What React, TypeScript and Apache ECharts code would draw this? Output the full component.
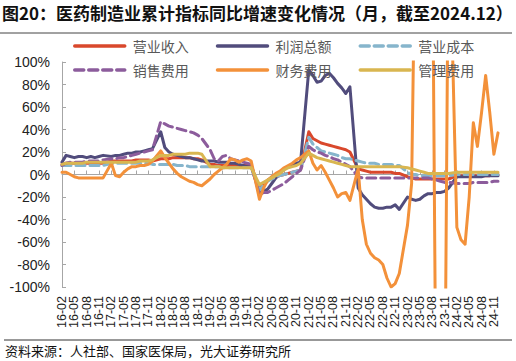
import React, { useEffect, useRef } from "react";
import * as echarts from "echarts";

// Categories: monthly 16-02 ... 24-12 (January has no cumulative value)
const categories: string[] = [];
for (let y = 16; y <= 24; y++) {
  for (let m = 1; m <= 12; m++) {
    if (y === 16 && m === 1) continue;
    categories.push(`${y}-${String(m).padStart(2, "0")}`);
  }
}

const yTicks = [-100, -80, -60, -40, -20, 0, 20, 40, 60, 80, 100];

// 营业收入
const revenue: (number | null)[] = [
  9, 10, 10, 10, 10, 10, 10, 10, 10, 10, 10,
  null, 12, 12, 12, 12, 12, 12, 13, 13, 13, 13, 12,
  null, 14, 14, 14, 15, 15, 15, 15, 15, 14, 14, 13,
  null, 9, 9, 8, 8, 8, 8, 8, 8, 8, 8, 8,
  null, -13, -8, -5, -3, -2, -1, 0, 1, 2, 3, 4,
  null, 38, 32, 30, 28, 27, 26, 25, 24, 23, 22, 20,
  null, 5, 4, 3, 2, 2, 2, 2, 2, 2, 1, 1,
  null, -2, -3, -4, -4, -4, -4, -4, -4, -4, -4, -4,
  null, -1, -1, -1, -1, -1, -1, -1, -1, -1, 0, 0,
];

// 利润总额
const profit: (number | null)[] = [
  11, 17, 16, 15, 16, 16, 15, 16, 15, 16, 17,
  null, 16, 17, 17, 18, 19, 19, 20, 20, 21, 22, 23,
  null, 38, 24, 20, 18, 17, 16, 15, 15, 14, 13, 12,
  null, 12, 12, 11, 11, 11, 10, 10, 9, 8, 7, 7,
  null, -16, -15, -13, -8, -3, 1, 5, 7, 9, 10, 11,
  null, 93, 88, 82, 83, 88, 90, 86, 81, 77, 72, 78,
  null, -12, -18, -22, -26, -29, -30, -30, -29, -29, -27, -31,
  null, -20, -22, -23, -22, -19, -17, -17, -16, -16, -15, -12,
  null, -2, -2, -2, -2, -2, -2, -2, -1, -1, -1, -1,
];

// 营业成本
const cost: (number | null)[] = [
  8, 8, 8, 8, 8, 8, 8, 8, 8, 8, 8,
  null, 10, 10, 10, 10, 10, 10, 10, 10, 10, 10, 9,
  null, 9, 9, 9, 9, 8, 8, 8, 7, 7, 7, 7,
  null, 7, 7, 7, 6, 6, 6, 6, 6, 6, 6, 6,
  null, -14, -9, -6, -4, -2, -1, 0, 1, 2, 3, 4,
  null, 33, 27, 24, 21, 20, 19, 18, 17, 15, 14, 14,
  null, 12, 11, 10, 10, 10, 9, 9, 9, 9, 8, 8,
  null, 2, 0, 0, -1, -1, -1, -1, -1, -1, -1, -1,
  null, 0, 0, 0, 0, 0, 0, 0, 0, 0, 0, 0,
];

// 销售费用
const sales: (number | null)[] = [
  8, 10, 11, 11, 11, 11, 12, 12, 12, 12, 13,
  null, 14, 14, 15, 15, 16, 17, 18, 19, 20, 21, 22,
  null, 47, 45, 43, 42, 41, 40, 39, 38, 37, 35, 32,
  null, 22, 14, 12, 16, 17, 14, 13, 12, 11, 10, 9,
  null, -18, -16, -16, -14, -12, -10, -8, -5, -2, 1, 4,
  null, 25, 22, 20, 19, 17, 16, 14, 13, 11, 9, 7,
  null, -2, -3, -3, -3, -3, -3, -3, -3, -3, -3, -3,
  null, -3, -3, -3, -3, -3, -3, -4, -5, -6, -7, -7,
  null, -8, -8, -8, -8, -7, -7, -7, -7, -7, -6, -6,
];

// 财务费用
const finance: (number | null)[] = [
  2, 2, 0, -2, -3, -3, -3, -3, -3, -3, -3,
  null, 10, -1, -2, 2, 5, 7, 7, 8, 8, 9, 12,
  null, 21, 15, 10, 5, 1, -2, -4, -6, -7, -9, -10,
  null, -4, 0, 3, 6, 9, 14, 13, 11, 13, 14, 12,
  null, -22, -12, -5, -2, 1, 3, 6, 8, 10, 13, 15,
  null, 21, 10, 4, 8, 2, -5, -12, -20, -17, -16, -23,
  null, 5, -40, -62, -70, -74, -76, -80, -92, -100, -97, -88,
  null, -45, -8, 250, 250, 250, 250, 250, -250, -250, -250, 250,
  null, -47, -58, -62, -20, 46, 25, 55, 88, 55, 18, 37,
];

// 管理费用
const admin: (number | null)[] = [
  9, 10, 10, 10, 10, 10, 11, 11, 11, 11, 11,
  null, 11, 11, 11, 11, 11, 11, 11, 12, 12, 12, 13,
  null, 17, 17, 17, 18, 18, 18, 18, 19, 19, 19, 18,
  null, 7, 7, 7, 6, 6, 6, 6, 6, 6, 6, 6,
  null, -9, -7, -5, -3, -1, 1, 4, 6, 7, 8, 10,
  null, 19, 17, 15, 14, 13, 12, 11, 10, 9, 8, 7,
  null, 7, 7, 7, 7, 7, 7, 7, 7, 7, 7, 7,
  null, 6, 5, 4, 3, 2, 1, 1, 1, 1, 1, 1,
  null, 2, 2, 2, 2, 2, 2, 2, 2, 2, 2, 2,
];

const seriesDefs = [
  { name: "营业收入", data: revenue, color: "#D9482C", dashed: false },
  { name: "利润总额", data: profit, color: "#514C7C", dashed: false },
  { name: "营业成本", data: cost, color: "#86B5CC", dashed: true },
  { name: "销售费用", data: sales, color: "#8C5C9C", dashed: true },
  { name: "财务费用", data: finance, color: "#F3913A", dashed: false },
  { name: "管理费用", data: admin, color: "#D9B650", dashed: false },
];

const CJK = '"Noto Sans CJK SC", "Noto Sans", sans-serif';
const LAT = '"Liberation Sans", Arial, sans-serif';

export default function App() {
  const ref = useRef<HTMLDivElement>(null);
  useEffect(() => {
    if (!ref.current) return;
    const chart = echarts.init(ref.current, null, { renderer: "svg" });
    const legendCommon = {
      left: 68,
      itemWidth: 50,
      itemHeight: 14,
      itemGap: 27,
      itemStyle: { opacity: 0 },
      lineStyle: { width: 3.5 },
      textStyle: { fontFamily: CJK, fontSize: 14, color: "#595959", padding: [0, 0, 0, 3] },
      selectedMode: false,
    };
    chart.setOption({
      animation: false,
      backgroundColor: "#ffffff",
      grid: { left: 62, right: 18, top: 62, bottom: 74, containLabel: false },
      legend: [
        { ...legendCommon, top: 34, data: ["营业收入", "利润总额", "营业成本"] },
        { ...legendCommon, top: 58, data: ["销售费用", "财务费用", "管理费用"] },
      ],
      xAxis: [
        {
          type: "category",
          data: categories,
          boundaryGap: false,
          axisLine: { show: false, onZero: false },
          axisTick: { show: false },
          axisLabel: {
            interval: 0,
            formatter: (value: string, index: number) => (index % 3 === 0 ? value : ""),
            hideOverlap: false,
            rotate: 90,
            margin: 9,
            fontFamily: LAT,
            fontSize: 12.5,
            color: "#222",
          },
          splitLine: { show: false },
        },
        {
          type: "category",
          data: categories,
          boundaryGap: false,
          position: "bottom",
          axisLine: { show: true, onZero: true, lineStyle: { color: "#A6A6A6", width: 1 } },
          axisTick: { show: true, inside: true, interval: 2, length: 4, lineStyle: { color: "#A6A6A6" } },
          axisLabel: { show: false },
          splitLine: { show: false },
        },
      ],
      yAxis: {
        type: "value",
        min: yTicks[0],
        max: yTicks[yTicks.length - 1],
        interval: 20,
        axisLine: { show: true, lineStyle: { color: "#A6A6A6", width: 1 } },
        axisTick: { show: true, inside: true, length: 4, lineStyle: { color: "#A6A6A6" } },
        splitLine: { show: false },
        axisLabel: {
          formatter: "{value}%",
          margin: 12,
          fontFamily: LAT,
          fontSize: 14,
          color: "#222",
        },
      },
      series: seriesDefs.map((s) => ({
        name: s.name,
        type: "line",
        data: s.data,
        xAxisIndex: 0,
        symbol: "none",
        connectNulls: true,
        clip: true,
        itemStyle: { color: s.color },
        lineStyle: {
          color: s.color,
          width: 3,
          type: s.dashed ? [9, 5] : "solid",
          cap: "round",
          join: "round",
        },
      })),
      graphic: [
        {
          type: "text",
          left: 2,
          top: 4,
          style: {
            text: "图20：医药制造业累计指标同比增速变化情况（月，截至2024.12）",
            font: `bold 17px ${CJK}`,
            fill: "#111",
          },
        },
        {
          type: "line",
          shape: { x1: 0, y1: 33, x2: 512, y2: 33 },
          style: { stroke: "#444", lineWidth: 1 },
        },
        {
          type: "line",
          shape: { x1: 4, y1: 340, x2: 512, y2: 340 },
          style: { stroke: "#333", lineWidth: 1 },
        },
        {
          type: "text",
          left: 5,
          top: 344,
          style: {
            text: "资料来源：人社部、国家医保局，光大证券研究所",
            font: `13px ${CJK}`,
            fill: "#111",
          },
        },
      ],
    });
    return () => chart.dispose();
  }, []);
  return <div ref={ref} style={{ width: 516, height: 361, position: "absolute", left: 0, top: 0 }} />;
}
